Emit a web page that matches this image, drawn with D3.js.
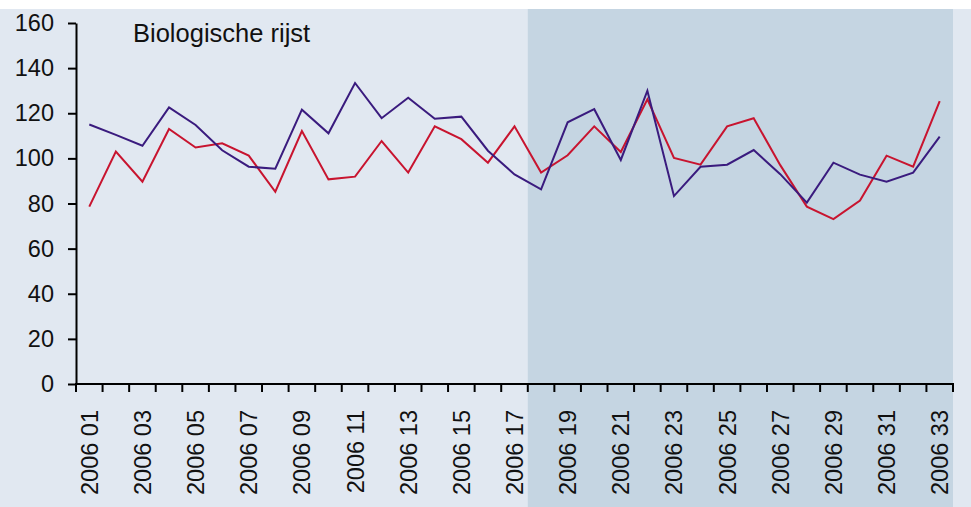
<!DOCTYPE html>
<html>
<head>
<meta charset="utf-8">
<script src="https://cdn.jsdelivr.net/npm/d3@7"></script>
<style>
  html, body { margin: 0; padding: 0; background: #ffffff; }
  svg { display: block; }
  text { font-family: "Liberation Sans", Arial, sans-serif; fill: #111; }
</style>
</head>
<body>
<svg id="chart" width="971" height="507"></svg>
<script>
const categories = ["2006 01","2006 02","2006 03","2006 04","2006 05","2006 06","2006 07","2006 08","2006 09","2006 10",
  "2006 11","2006 12","2006 13","2006 14","2006 15","2006 16","2006 17","2006 18","2006 19","2006 20",
  "2006 21","2006 22","2006 23","2006 24","2006 25","2006 26","2006 27","2006 28","2006 29","2006 30",
  "2006 31","2006 32","2006 33"];
const seriesPurple = [115,110.4,105.6,122.6,114.8,103.6,96.3,95.4,121.6,111.1,
  133.4,117.8,126.9,117.6,118.5,103.4,92.9,86.3,116,121.8,
  99.3,130,83.3,96.3,97.2,103.7,93,80.4,98.1,92.8,
  89.7,93.7,109.6];
const seriesRed = [78.6,103,89.7,113,104.8,106.7,101.2,85.2,112.1,90.7,
  91.9,107.7,93.7,114.2,108.5,98.1,114.2,93.7,101.4,114.2,
  102.8,126.2,100.2,97.2,114.2,117.8,97,78.6,73.1,81.3,
  101.2,96.3,125.4];
const yTicks = [0,20,40,60,80,100,120,140,160];
const xLabels = categories.filter((d, i) => i % 2 === 0);
const shadedFrom = "2006 18";
const chartTitle = "Biologische rijst";

(function () {
const W = 971, H = 507;
const mLeft = 76, mRight = 953, mTop = 23, mBottom = 384;
const svg = d3.select("#chart");

const x = d3.scaleBand().domain(categories).range([mLeft, mRight]).padding(0);
const y = d3.scaleLinear().domain([0, 160]).range([mBottom, mTop]);

// backgrounds
svg.append("rect").attr("x", 0).attr("y", 9).attr("width", W).attr("height", H - 9).attr("fill", "#e1e8f1");
svg.append("rect").attr("x", x(shadedFrom)).attr("y", 9)
  .attr("width", x(categories[categories.length - 1]) + x.bandwidth() - x(shadedFrom))
  .attr("height", H - 9).attr("fill", "#c5d5e2");

// lines
const line = (vals) => d3.line()
  .x((d, i) => x(categories[i]) + x.bandwidth() / 2)
  .y(d => y(d))(vals);
svg.append("path").attr("d", line(seriesRed)).attr("fill", "none")
  .attr("stroke", "#c8142f").attr("stroke-width", 2).attr("stroke-linejoin", "miter");
svg.append("path").attr("d", line(seriesPurple)).attr("fill", "none")
  .attr("stroke", "#3a1b7e").attr("stroke-width", 2).attr("stroke-linejoin", "miter");

// y axis
const yAxis = d3.axisLeft(y).tickValues(yTicks).tickSize(8).tickPadding(14).tickSizeOuter(0);
const gy = svg.append("g").attr("transform", `translate(${mLeft},0)`).call(yAxis);
gy.select(".domain").attr("stroke", "#000").attr("stroke-width", 2);
gy.selectAll(".tick line").attr("stroke", "#000").attr("stroke-width", 2);
gy.selectAll(".tick text").style("font-size", "23.5px").style("font-family", "'Liberation Sans', Arial, sans-serif").attr("fill", "#111");

// x axis: line + boundary ticks
const gx = svg.append("g");
gx.append("line").attr("x1", mLeft - 1).attr("x2", mRight + 1).attr("y1", mBottom).attr("y2", mBottom)
  .attr("stroke", "#000").attr("stroke-width", 2);
const bounds = categories.map(c => x(c)).concat([x(categories[categories.length - 1]) + x.bandwidth()]);
gx.selectAll(".xt").data(bounds).enter().append("line")
  .attr("x1", d => d).attr("x2", d => d).attr("y1", mBottom).attr("y2", mBottom + 8)
  .attr("stroke", "#000").attr("stroke-width", 2);
gx.selectAll(".xl").data(xLabels).enter().append("text")
  .attr("transform", d => `translate(${x(d) + x.bandwidth() / 2},410) rotate(-90)`)
  .attr("text-anchor", "end").attr("dy", "0.36em")
  .style("font-size", "23.5px").text(d => d);

// title
svg.append("text").attr("x", 133).attr("y", 42).style("font-size", "25.5px").text(chartTitle);
})();
</script>
</body>
</html>
